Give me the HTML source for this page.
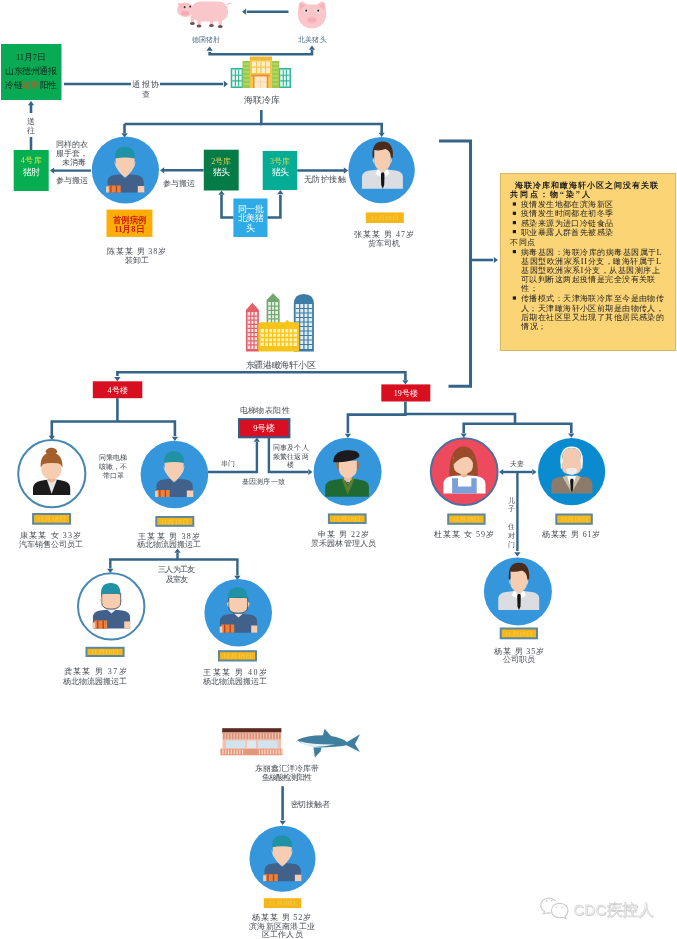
<!DOCTYPE html>
<html><head><meta charset="utf-8"><title>diagram</title>
<style>html,body{margin:0;padding:0;background:#fff;width:677px;height:939px;overflow:hidden}
svg{display:block;filter:blur(0.35px);font-family:"Liberation Serif", serif}</style></head>
<body>
<svg width="677" height="939" viewBox="0 0 677 939" font-family="Liberation Serif, serif">
<rect width="677" height="939" fill="#ffffff"/>
<g>
<path d="M190.6,16 L194.20000000000002,16 L194.0,23.5 L190.8,23.5 Z" fill="#f9c6c9"/>
<ellipse cx="192.4" cy="23.5" rx="2.4" ry="1.5" fill="#6e5252"/>
<path d="M197.2,16 L200.8,16 L200.6,26 L197.4,26 Z" fill="#f9c6c9"/>
<ellipse cx="199" cy="26" rx="2.4" ry="1.5" fill="#6e5252"/>
<path d="M209.7,16 L213.3,16 L213.1,25.5 L209.9,25.5 Z" fill="#f9c6c9"/>
<ellipse cx="211.5" cy="25.5" rx="2.4" ry="1.5" fill="#6e5252"/>
<path d="M218.5,16 L222.10000000000002,16 L221.9,26.5 L218.70000000000002,26.5 Z" fill="#f9c6c9"/>
<ellipse cx="220.3" cy="26.5" rx="2.4" ry="1.5" fill="#6e5252"/>
<rect x="191" y="1.5" width="37" height="20" rx="9" fill="#f9c6c9"/>
<path d="M227,5 Q230,2 231,4" stroke="#f9c6c9" stroke-width="1.2" fill="none"/>
<ellipse cx="185.5" cy="9.8" rx="8.5" ry="7.2" fill="#f9c6c9"/>
<path d="M177.5,3 L185,4 L181,9 Z" fill="#f7b9bd"/>
<ellipse cx="185" cy="13.2" rx="4" ry="2.4" fill="#f3adb3"/>
<ellipse cx="184.6" cy="7.2" rx="0.9" ry="1.1" fill="#3a2a2a"/><ellipse cx="190.2" cy="6.6" rx="0.9" ry="1.1" fill="#3a2a2a"/>
<path d="M298.5,8 Q298,1.2 303,1.5 L307,4.5 H317 L321,1.5 Q326,1.2 325.8,8 Q327,14 325.5,19 Q322,28.4 312,28.4 Q302,28.4 298.5,19 Q297,14 298.5,8 Z" fill="#f9c6c9"/>
<path d="M299.5,3 L305.5,5 L300,10 Z M324.5,3 L318.5,5 L324,10 Z" fill="#f5b3b8"/>
<ellipse cx="306.2" cy="10.8" rx="1.9" ry="1.7" fill="#ffffff"/><ellipse cx="318.3" cy="10.8" rx="1.9" ry="1.7" fill="#ffffff"/>
<circle cx="306.2" cy="10.7" r="1.1" fill="#2a2020"/><circle cx="318.3" cy="10.7" r="1.1" fill="#2a2020"/>
<ellipse cx="312" cy="20" rx="5" ry="3.6" fill="#f5b5ba"/>
<circle cx="310.2" cy="20" r="0.8" fill="#e38d96"/><circle cx="313.8" cy="20" r="0.8" fill="#e38d96"/>
</g>
<text x="206" y="41.5" font-size="7" fill="#4e6b88" text-anchor="middle" font-weight="normal" textLength="28" lengthAdjust="spacing">德国猪肘</text>
<text x="312" y="41.5" font-size="7" fill="#4e6b88" text-anchor="middle" font-weight="normal" textLength="29" lengthAdjust="spacing">北美猪头</text>
<path d="M288.5,11.7 L247,11.7" fill="none" stroke="#346588" stroke-width="2.6" stroke-linejoin="miter"/>
<path d="M242.0,11.7 L246.2,8.5 L246.2,14.8Z" fill="#346588"/>
<path d="M209.6,52 L209.6,54.3 L312,54.3 L312,50" fill="none" stroke="#346588" stroke-width="2.6" stroke-linejoin="miter"/>
<path d="M209.6,46.5 L206.4,50.7 L212.8,50.7Z" fill="#346588"/>
<path d="M312.0,45.5 L308.9,49.7 L315.1,49.7Z" fill="#346588"/>
<g>
<rect x="230.7" y="68" width="12.5" height="20" fill="#35b598"/>
<rect x="278.7" y="68" width="12.300000000000011" height="20" fill="#35b598"/>
<path d="M232.2,69.5 h9.5 v17 h-9.5z M280.2,69.5 h9.3 v17 h-9.3z" fill="#e4f7f2"/>
<path d="M232.2,75.2 h9.5 M232.2,80.9 h9.5 M235.4,69.5 v17 M238.6,69.5 v17 M280.2,75.2 h9.3 M280.2,80.9 h9.3 M283.3,69.5 v17 M286.4,69.5 v17" stroke="#35b598" stroke-width="1.1"/>
<rect x="242.5" y="61" width="8.300000000000011" height="27" fill="#9ccb4c"/>
<rect x="271.3" y="61" width="8.0" height="27" fill="#9ccb4c"/>
<path d="M243.5,64 h6 M243.5,68 h6 M243.5,72 h6 M243.5,76 h6 M243.5,80 h6 M243.5,84 h6 M272.3,64 h6 M272.3,68 h6 M272.3,72 h6 M272.3,76 h6 M272.3,80 h6 M272.3,84 h6" stroke="#c4e080" stroke-width="1.2"/>
<rect x="249.8" y="56.7" width="22.19999999999999" height="31.299999999999997" fill="#f4c64e"/>
<rect x="249.8" y="56.7" width="22.19999999999999" height="3.299999999999997" fill="#f0b93a"/>
<path d="M252,61.5 h18 v11.5 h-18z" fill="#fdf0c8"/>
<path d="M252,67.2 h18 M256.5,61.5 v11.5 M261,61.5 v11.5 M265.5,61.5 v11.5" stroke="#f4c64e" stroke-width="1.2"/>
<rect x="251.3" y="74.6" width="18.099999999999966" height="2.0" fill="#ec8a3c"/>
<rect x="253" y="76.6" width="1.5999999999999943" height="11.400000000000006" fill="#ec8a3c"/>
<rect x="266.6" y="76.6" width="1.599999999999966" height="11.400000000000006" fill="#ec8a3c"/>
<rect x="254.6" y="76.6" width="12.000000000000028" height="11.400000000000006" fill="#fde8c8"/>
<path d="M260.6,76.6 v11.4 M254.6,82 h12" stroke="#f6d4a8" stroke-width="0.8"/>
</g>
<text x="261.6" y="103.2" font-size="9" fill="#464b52" text-anchor="middle" font-weight="normal" textLength="36" lengthAdjust="spacing">海联冷库</text>
<path d="M261.3,110 L261.3,124 L381.7,124 L381.7,133" fill="none" stroke="#346588" stroke-width="2.6" stroke-linejoin="miter"/>
<path d="M124.5,124 L261.3,124" fill="none" stroke="#346588" stroke-width="2.6" stroke-linejoin="miter"/>
<path d="M124.5,124 L124.5,133" fill="none" stroke="#346588" stroke-width="2.6" stroke-linejoin="miter"/>
<path d="M124.5,137.5 L121.3,133.3 L127.7,133.3Z" fill="#346588"/>
<path d="M381.7,137.0 L378.6,132.8 L384.8,132.8Z" fill="#346588"/>
<rect x="1" y="44" width="60.5" height="56" fill="#08ab53"/>
<text x="31" y="60.1" font-size="8.5" fill="#10261a" text-anchor="middle" font-weight="normal" textLength="30" lengthAdjust="spacing">11月7日</text>
<text x="31" y="74.1" font-size="8.5" fill="#10261a" text-anchor="middle" font-weight="normal" textLength="52" lengthAdjust="spacing">山东德州通报</text>
<text x="31" y="87.8" font-size="8.5" text-anchor="middle" fill="#10261a" textLength="52" lengthAdjust="spacingAndGlyphs">冷链<tspan fill="#c9532a">猪肘</tspan>阳性</text>
<path d="M64,84 L223,84" fill="none" stroke="#346588" stroke-width="2.4" stroke-linejoin="miter"/>
<path d="M228.0,84.0 L223.8,80.8 L223.8,87.2Z" fill="#346588"/>
<rect x="131" y="78" width="29" height="21" fill="#fff"/>
<text x="145.6" y="86.9" font-size="8" fill="#464b52" text-anchor="middle" font-weight="normal" textLength="27" lengthAdjust="spacing">通报协</text>
<text x="146" y="96.9" font-size="8" fill="#464b52" text-anchor="middle" font-weight="normal">查</text>
<path d="M31,105 L31,113" fill="none" stroke="#346588" stroke-width="2.6" stroke-linejoin="miter"/>
<path d="M31,137 L31,150" fill="none" stroke="#346588" stroke-width="2.6" stroke-linejoin="miter"/>
<path d="M31.0,101.0 L27.9,105.2 L34.1,105.2Z" fill="#346588"/>
<text x="31" y="123.9" font-size="8" fill="#464b52" text-anchor="middle" font-weight="normal">送</text>
<text x="31" y="132.9" font-size="8" fill="#464b52" text-anchor="middle" font-weight="normal">往</text>
<rect x="13.7" y="150" width="35.0" height="41" fill="#04ae51"/>
<text x="31.2" y="162.9" font-size="8" fill="#d6e84a" text-anchor="middle" font-weight="normal" textLength="21" lengthAdjust="spacing">4号库</text>
<text x="31.2" y="175.1" font-size="8.5" fill="#ffffff" text-anchor="middle" font-weight="normal" textLength="17" lengthAdjust="spacing">猪肘</text>
<path d="M91,170.6 L54,170.6" fill="none" stroke="#346588" stroke-width="2.4" stroke-linejoin="miter"/>
<path d="M50.0,170.6 L54.2,167.4 L54.2,173.8Z" fill="#346588"/>
<text x="72" y="147.4" font-size="8" fill="#464b52" text-anchor="middle" font-weight="normal" textLength="32" lengthAdjust="spacing">同样的衣</text>
<text x="72" y="156.2" font-size="8" fill="#464b52" text-anchor="middle" font-weight="normal" textLength="32" lengthAdjust="spacing">服手套，</text>
<text x="74" y="165.2" font-size="8" fill="#464b52" text-anchor="middle" font-weight="normal" textLength="24" lengthAdjust="spacing">未消毒</text>
<text x="72" y="182.9" font-size="8" fill="#464b52" text-anchor="middle" font-weight="normal" textLength="32" lengthAdjust="spacing">参与搬运</text>
<circle cx="125.4" cy="170" r="33.6" fill="#3596dc"/>
<g transform="translate(125.4,170) scale(1.0)">
<path d="M-18,22.5 V12 Q-18,6 -11,5 L-4,4.3 L-0.3,8.5 L3.5,4.3 L11,5 Q18.3,6 18.3,12 V22.5 Z" fill="#41608a"/>
<path d="M-11.5,-9 L-9.5,-3 L-1,8 Z M10.5,-9 L8.8,-3 L0.5,8 Z" fill="#dfe9f2" opacity="0.8"/>
<path d="M-9.8,-13 H9.2 V-6 Q8.2,1 -0.3,7.5 Q-8.8,1 -9.8,-6 Z" fill="#f6cdb0"/>
<path d="M-10.3,-11.5 Q-11,-23.3 -0.5,-23.3 Q9.8,-23.3 9.6,-11.5 Q-0.5,-13.5 -10.3,-11.5 Z" fill="#2092a6"/>
<rect x="-18.3" y="15.5" width="13.6" height="7" fill="#e8823e"/>
<path d="M-14.5,15.5 v7 M-9,15.5 v7" stroke="#b8401e" stroke-width="1.3"/>
<rect x="-19.3" y="16.5" width="2.6" height="6" fill="#f6cdb0"/>
<rect x="12.4" y="16" width="6.5" height="6.5" fill="#f6cdb0"/>
</g>
<path d="M203.6,170.3 L164,170.3" fill="none" stroke="#346588" stroke-width="2.4" stroke-linejoin="miter"/>
<path d="M160.0,170.3 L164.2,167.2 L164.2,173.5Z" fill="#346588"/>
<text x="178.7" y="185.6" font-size="8" fill="#464b52" text-anchor="middle" font-weight="normal" textLength="32" lengthAdjust="spacing">参与搬运</text>
<rect x="106.5" y="209.6" width="45.900000000000006" height="27.30000000000001" fill="#fdad06"/>
<text x="129.5" y="222.6" font-size="8.5" fill="#cc200c" text-anchor="middle" font-weight="bold" textLength="33" lengthAdjust="spacingAndGlyphs">首例病例</text>
<text x="129.5" y="232.1" font-size="8.5" fill="#cc200c" text-anchor="middle" font-weight="bold" textLength="30" lengthAdjust="spacingAndGlyphs">11月8日</text>
<text x="136.5" y="253.9" font-size="8" fill="#464b52" text-anchor="middle" font-weight="normal" textLength="59" lengthAdjust="spacing">陈某某  男  38岁</text>
<text x="136.5" y="262.9" font-size="8" fill="#464b52" text-anchor="middle" font-weight="normal" textLength="24" lengthAdjust="spacing">装卸工</text>
<rect x="203.8" y="149.7" width="34.89999999999998" height="40.80000000000001" fill="#057b48"/>
<text x="221.2" y="163.9" font-size="8" fill="#dcd44a" text-anchor="middle" font-weight="normal" textLength="20" lengthAdjust="spacing">2号库</text>
<text x="221.2" y="175.1" font-size="8.5" fill="#ffffff" text-anchor="middle" font-weight="normal" textLength="17" lengthAdjust="spacing">猪头</text>
<rect x="262.7" y="151" width="34.5" height="39" fill="#06ad96"/>
<text x="280" y="163.9" font-size="8" fill="#dcd44a" text-anchor="middle" font-weight="normal" textLength="20" lengthAdjust="spacing">3号库</text>
<text x="280" y="175.1" font-size="8.5" fill="#ffffff" text-anchor="middle" font-weight="normal" textLength="17" lengthAdjust="spacing">猪头</text>
<rect x="233.4" y="198.5" width="34.099999999999994" height="38.5" fill="#2eaae6"/>
<text x="250.5" y="212.1" font-size="8.5" fill="#ffffff" text-anchor="middle" font-weight="normal" textLength="26" lengthAdjust="spacing">同一批</text>
<text x="250.5" y="221.1" font-size="8.5" fill="#ffffff" text-anchor="middle" font-weight="normal" textLength="26" lengthAdjust="spacing">北美猪</text>
<text x="250.5" y="230.8" font-size="8.5" fill="#ffffff" text-anchor="middle" font-weight="normal">头</text>
<path d="M233.4,217.5 L221.5,217.5 L221.5,195" fill="none" stroke="#346588" stroke-width="2.6" stroke-linejoin="miter"/>
<path d="M221.5,190.5 L218.3,194.7 L224.7,194.7Z" fill="#346588"/>
<path d="M267.5,217.5 L280.4,217.5 L280.4,195" fill="none" stroke="#346588" stroke-width="2.6" stroke-linejoin="miter"/>
<path d="M280.4,190.0 L277.2,194.2 L283.5,194.2Z" fill="#346588"/>
<path d="M297.2,170.5 L344,170.5" fill="none" stroke="#346588" stroke-width="2.4" stroke-linejoin="miter"/>
<path d="M348.0,170.5 L343.8,167.3 L343.8,173.7Z" fill="#346588"/>
<text x="324.8" y="181.9" font-size="8" fill="#464b52" text-anchor="middle" font-weight="normal" textLength="42" lengthAdjust="spacing">无防护接触</text>
<circle cx="381.6" cy="170.1" r="33.2" fill="#3596dc"/>
<g transform="translate(381.6,170.1)">
<path d="M-19.6,18.7 V7 Q-19.6,1.5 -12,0.5 L-3,-0.5 H5 L14,0.5 Q21.3,1.5 21.3,7 V18.7 Z" fill="#dcdde3"/>
<path d="M-4,-1 L1.1,4 L6,-1 L8,4 L1.1,8 L-6,4 Z" fill="#ffffff"/>
<path d="M-7.4,-21 H9.1 V-8 Q8.5,-1 1,1.5 Q-6.8,-1 -7.4,-8 Z" fill="#f6cdb0"/>
<path d="M-7.4,-12 L-9,-10 L-7.4,-6 Z M9.1,-12 L10.6,-10 L9.1,-6 Z" fill="#f6cdb0"/>
<path d="M-9,-12 Q-10.5,-28.6 1,-28.6 Q12.5,-28.6 11.2,-12 L9.3,-13 Q9,-19 4,-21 Q-2,-19 -7.4,-20 L-7.4,-13 Z" fill="#4a2b1c"/>
<path d="M-0.2,2.5 L2.4,2.5 L2.9,5 L2.6,15 L1.1,18.7 L-0.4,15 L-0.7,5 Z" fill="#151515"/>
</g>
<rect x="365.8" y="212.4" width="38.0" height="10.599999999999994" fill="#f5b61a"/>
<text x="384.8" y="219.9" font-size="6" fill="#f8cc50" text-anchor="middle" textLength="28.0" lengthAdjust="spacingAndGlyphs">11月18日</text>
<text x="384" y="237.3" font-size="8" fill="#464b52" text-anchor="middle" font-weight="normal" textLength="60" lengthAdjust="spacing">张某某  男  47岁</text>
<text x="384" y="245.9" font-size="8" fill="#464b52" text-anchor="middle" font-weight="normal" textLength="32" lengthAdjust="spacing">货车司机</text>
<path d="M439,141 L470.5,141 L470.5,386.2 L448.5,386.2" fill="none" stroke="#346588" stroke-width="3" stroke-linejoin="miter"/>
<path d="M470.5,260 L493,260" fill="none" stroke="#346588" stroke-width="2.6" stroke-linejoin="miter"/>
<path d="M498.0,260.0 L493.8,256.9 L493.8,263.1Z" fill="#346588"/>
<rect x="500.4" y="173.6" width="175.20000000000005" height="176.9" fill="#fbd475" stroke="#d9b262" stroke-width="1"/>
<text x="515" y="188.2" font-size="8.4" fill="#1e1e1e" text-anchor="start" font-weight="bold" textLength="142.6" lengthAdjust="spacing">海联冷库和瞰海轩小区之间没有关联</text>
<text x="510" y="197.0" font-size="8.4" fill="#1e1e1e" text-anchor="start" font-weight="bold" textLength="80" lengthAdjust="spacing">共同点：物“染”人</text>
<text x="521" y="207.0" font-size="8.4" fill="#1e1e1e" text-anchor="start" font-weight="normal" textLength="92" lengthAdjust="spacing">疫情发生地都在滨海新区</text>
<rect x="512.8" y="202.4" width="3.2000000000000455" height="3.1999999999999886" fill="#1a1a1a"/>
<text x="521" y="216.3" font-size="8.4" fill="#1e1e1e" text-anchor="start" font-weight="normal" textLength="92" lengthAdjust="spacing">疫情发生时间都在初冬季</text>
<rect x="512.8" y="211.70000000000002" width="3.2000000000000455" height="3.1999999999999886" fill="#1a1a1a"/>
<text x="521" y="225.6" font-size="8.4" fill="#1e1e1e" text-anchor="start" font-weight="normal" textLength="92" lengthAdjust="spacing">感染来源为进口冷链食品</text>
<rect x="512.8" y="221.0" width="3.2000000000000455" height="3.1999999999999886" fill="#1a1a1a"/>
<text x="521" y="234.6" font-size="8.4" fill="#1e1e1e" text-anchor="start" font-weight="normal" textLength="92" lengthAdjust="spacing">职业暴露人群首先被感染</text>
<rect x="512.8" y="230.0" width="3.2000000000000455" height="3.1999999999999886" fill="#1a1a1a"/>
<text x="510" y="244.6" font-size="8.4" fill="#1e1e1e" text-anchor="start" font-weight="normal" textLength="25.2" lengthAdjust="spacing">不同点</text>
<text x="521" y="254.6" font-size="8.4" fill="#1e1e1e" text-anchor="start" font-weight="normal" textLength="140.7" lengthAdjust="spacing">病毒基因：海联冷库的病毒基因属于L</text>
<rect x="512.8" y="250.0" width="3.2000000000000455" height="3.1999999999999886" fill="#1a1a1a"/>
<text x="521" y="263.8" font-size="8.4" fill="#1e1e1e" text-anchor="start" font-weight="normal" textLength="140" lengthAdjust="spacing">基因型欧洲家系II分支，瞰海轩属于L</text>
<text x="521" y="273.0" font-size="8.4" fill="#1e1e1e" text-anchor="start" font-weight="normal" textLength="139" lengthAdjust="spacing">基因型欧洲家系I分支，从基因测序上</text>
<text x="521" y="282.0" font-size="8.4" fill="#1e1e1e" text-anchor="start" font-weight="normal" textLength="134.4" lengthAdjust="spacing">可以判断这两起疫情是完全没有关联</text>
<text x="521" y="291.0" font-size="8.4" fill="#1e1e1e" text-anchor="start" font-weight="normal" textLength="16.8" lengthAdjust="spacing">性；</text>
<text x="521" y="301.0" font-size="8.4" fill="#1e1e1e" text-anchor="start" font-weight="normal" textLength="142.8" lengthAdjust="spacing">传播模式：天津海联冷库至今是由物传</text>
<rect x="512.8" y="296.4" width="3.2000000000000455" height="3.2000000000000455" fill="#1a1a1a"/>
<text x="521" y="310.5" font-size="8.4" fill="#1e1e1e" text-anchor="start" font-weight="normal" textLength="142.8" lengthAdjust="spacing">人；天津瞰海轩小区前期是由物传人，</text>
<text x="521" y="319.5" font-size="8.4" fill="#1e1e1e" text-anchor="start" font-weight="normal" textLength="142.8" lengthAdjust="spacing">后期在社区里又出现了其他居民感染的</text>
<text x="521" y="328.6" font-size="8.4" fill="#1e1e1e" text-anchor="start" font-weight="normal" textLength="25.2" lengthAdjust="spacing">情况；</text>
<g>
<path d="M245.9,310 L252.4,302.8 L258.9,310 V351.6 H245.9 Z" fill="#e2606a"/>
<path d="M247.6,312 h9.6 v37 h-9.6z" fill="#fbe4e6"/>
<path d="M247.6,316.1 H257.2 M247.6,320.2 H257.2 M247.6,324.3 H257.2 M247.6,328.4 H257.2 M247.6,332.6 H257.2 M247.6,336.7 H257.2 M247.6,340.8 H257.2 M247.6,344.9 H257.2 M250.8,312 V349 M254.0,312 V349" stroke="#e2606a" stroke-width="1.2"/>
<path d="M266.6,300 L273.1,293.3 L279.6,300 V325 H266.6 Z" fill="#72a772"/>
<path d="M268.2,302 h9.8 v21 h-9.8z" fill="#e6f4e4"/>
<path d="M268.2,306.2 H278 M268.2,310.4 H278 M268.2,314.6 H278 M268.2,318.8 H278 M271.5,302 V323 M274.7,302 V323" stroke="#72a772" stroke-width="1.2"/>
<path d="M293.8,304 Q293.8,293.9 303.8,293.9 Q313.9,293.9 313.9,304 V351.6 H293.8 Z" fill="#3d7ca4"/>
<path d="M295.6,304 h16.5 v45 h-16.5z" fill="#e0edf6"/>
<path d="M295.6,308.5 H312.1 M295.6,313.0 H312.1 M295.6,317.5 H312.1 M295.6,322.0 H312.1 M295.6,326.5 H312.1 M295.6,331.0 H312.1 M295.6,335.5 H312.1 M295.6,340.0 H312.1 M295.6,344.5 H312.1 M299.7,304 V349 M303.9,304 V349 M308.0,304 V349" stroke="#3d7ca4" stroke-width="1.2"/>
<path d="M258.3,351.6 V325 Q258.3,322.3 262,322.3 H285 L287.3,319.8 L289.6,322.3 H296 Q299.1,322.3 299.1,325 V351.6 Z" fill="#f6c41a"/>
<path d="M260.5,329 h36.5 v17 h-36.5z" fill="#fdf1b8"/>
<path d="M260.5,333.2 H297 M260.5,337.5 H297 M260.5,341.8 H297 M264.6,329 V346 M268.6,329 V346 M272.7,329 V346 M276.7,329 V346 M280.8,329 V346 M284.8,329 V346 M288.9,329 V346 M292.9,329 V346" stroke="#f6c41a" stroke-width="1.3"/>
</g>
<text x="280.5" y="368.1" font-size="8.5" fill="#464b52" text-anchor="middle" font-weight="normal" textLength="70" lengthAdjust="spacing">东疆港瞰海轩小区</text>
<path d="M117.4,376 L117.4,372.3 L405.4,372.3 L405.4,380" fill="none" stroke="#346588" stroke-width="2.6" stroke-linejoin="miter"/>
<path d="M117.4,381.3 L114.2,377.1 L120.6,377.1Z" fill="#346588"/>
<path d="M405.4,384.4 L402.2,380.2 L408.5,380.2Z" fill="#346588"/>
<rect x="92.8" y="381.3" width="49.500000000000014" height="16.899999999999977" fill="#d80f20"/>
<text x="117.5" y="392.6" font-size="8" fill="#ffffff" text-anchor="middle" font-weight="normal" textLength="20" lengthAdjust="spacing">4号楼</text>
<rect x="381.3" y="384.4" width="49.0" height="17.100000000000023" fill="#d80f20"/>
<text x="405.7" y="395.9" font-size="8" fill="#ffffff" text-anchor="middle" font-weight="normal" textLength="24" lengthAdjust="spacing">19号楼</text>
<path d="M117.4,398.2 L117.4,421.5" fill="none" stroke="#346588" stroke-width="2.6" stroke-linejoin="miter"/>
<path d="M51.8,436 L51.8,421.5 L174.9,421.5 L174.9,436" fill="none" stroke="#346588" stroke-width="2.6" stroke-linejoin="miter"/>
<path d="M51.8,440.0 L48.6,435.8 L54.9,435.8Z" fill="#346588"/>
<path d="M174.9,441.0 L171.8,436.8 L178.1,436.8Z" fill="#346588"/>
<text x="113.4" y="460.1" font-size="7" fill="#464b52" text-anchor="middle" font-weight="normal" textLength="28" lengthAdjust="spacing">同乘电梯</text>
<text x="113.4" y="468.8" font-size="7" fill="#464b52" text-anchor="middle" font-weight="normal" textLength="28" lengthAdjust="spacing">咳嗽，不</text>
<text x="113.4" y="477.5" font-size="7" fill="#464b52" text-anchor="middle" font-weight="normal" textLength="21" lengthAdjust="spacing">带口罩</text>
<circle cx="51.8" cy="473.7" r="33.6" fill="#ffffff" stroke="#4688b2" stroke-width="2"/>
<g transform="translate(51.9,473.8)">
<path d="M-18.9,21.2 V14 Q-18.5,8.5 -11,7 L-5,6 H6 L11,7 Q18.3,8.5 18.3,14 V21.2 Z" fill="#1b1b1b"/>
<path d="M-5,6 L-0.3,20 L5,6 Z" fill="#e6e6e6"/>
<path d="M-4,3 H3.5 V7 L-0.3,9 L-4,7 Z" fill="#e8b89a"/>
<path d="M-10.5,-13 H9.5 V-3 Q9,4.5 -0.5,5.5 Q-10,4.5 -10.5,-3 Z" fill="#f6cdb0"/>
<path d="M-11.2,-6.5 Q-12,-21 -0.8,-21 Q10.8,-21 10.6,-6.5 Q9,-10 6,-10.5 Q-4,-11.5 -9,-9.5 Z" fill="#a3602c"/>
<ellipse cx="-0.5" cy="-22.2" rx="5.8" ry="3.8" fill="#a3602c"/>
</g>
<circle cx="174.4" cy="474.5" r="33.8" fill="#3596dc"/>
<g transform="translate(174.4,474.5) scale(1.0)">
<path d="M-18,22.5 V12 Q-18,6 -11,5 L-4,4.3 L-0.3,8.5 L3.5,4.3 L11,5 Q18.3,6 18.3,12 V22.5 Z" fill="#41608a"/>
<path d="M-11.5,-9 L-9.5,-3 L-1,8 Z M10.5,-9 L8.8,-3 L0.5,8 Z" fill="#dfe9f2" opacity="0.8"/>
<path d="M-9.8,-13 H9.2 V-6 Q8.2,1 -0.3,7.5 Q-8.8,1 -9.8,-6 Z" fill="#f6cdb0"/>
<path d="M-10.3,-11.5 Q-11,-23.3 -0.5,-23.3 Q9.8,-23.3 9.6,-11.5 Q-0.5,-13.5 -10.3,-11.5 Z" fill="#2092a6"/>
<rect x="-18.3" y="15.5" width="13.6" height="7" fill="#e8823e"/>
<path d="M-14.5,15.5 v7 M-9,15.5 v7" stroke="#b8401e" stroke-width="1.3"/>
<rect x="-19.3" y="16.5" width="2.6" height="6" fill="#f6cdb0"/>
<rect x="12.4" y="16" width="6.5" height="6.5" fill="#f6cdb0"/>
</g>
<rect x="32.1" y="513" width="38.99999999999999" height="11.700000000000045" fill="#5b88a0"/>
<rect x="34.1" y="515" width="34.99999999999999" height="7.7000000000000455" fill="#f5b61a"/>
<text x="51.6" y="521.1" font-size="6" fill="#f8cc50" text-anchor="middle" textLength="29.0" lengthAdjust="spacingAndGlyphs">11月18日</text>
<rect x="155.3" y="516" width="39.0" height="10.799999999999955" fill="#5b88a0"/>
<rect x="157.3" y="518" width="35.0" height="6.7999999999999545" fill="#f5b61a"/>
<text x="174.8" y="523.6" font-size="6" fill="#f8cc50" text-anchor="middle" textLength="29.0" lengthAdjust="spacingAndGlyphs">11月18日</text>
<text x="50.5" y="537.5" font-size="8" fill="#464b52" text-anchor="middle" font-weight="normal" textLength="61" lengthAdjust="spacing">康某某  女  33岁</text>
<text x="50.5" y="546.6" font-size="8" fill="#464b52" text-anchor="middle" font-weight="normal" textLength="64" lengthAdjust="spacing">汽车销售公司员工</text>
<text x="169" y="538.5" font-size="8" fill="#464b52" text-anchor="middle" font-weight="normal" textLength="62" lengthAdjust="spacing">王某某  男  38岁</text>
<text x="169" y="547.2" font-size="8" fill="#464b52" text-anchor="middle" font-weight="normal" textLength="64" lengthAdjust="spacing">杨北物流园搬运工</text>
<text x="264.5" y="413.3" font-size="8" fill="#464b52" text-anchor="middle" font-weight="normal" textLength="50" lengthAdjust="spacing">电梯物表阳性</text>
<rect x="239" y="419.1" width="50.39999999999998" height="18.19999999999999" fill="#d80f20" stroke="#2f5f8a" stroke-width="2"/>
<text x="264.2" y="431.3" font-size="8.5" fill="#ffffff" text-anchor="middle" font-weight="normal" textLength="22" lengthAdjust="spacing">9号楼</text>
<path d="M208,472 L256.9,472 L256.9,442" fill="none" stroke="#346588" stroke-width="2.4" stroke-linejoin="miter"/>
<path d="M256.9,437.5 L253.7,441.7 L260.0,441.7Z" fill="#346588"/>
<text x="228" y="465.8" font-size="7" fill="#464b52" text-anchor="middle" font-weight="normal" textLength="14" lengthAdjust="spacing">串门</text>
<path d="M268.9,437.3 L268.9,472 L308,472" fill="none" stroke="#346588" stroke-width="2.4" stroke-linejoin="miter"/>
<path d="M312.5,472.0 L308.3,468.9 L308.3,475.1Z" fill="#346588"/>
<text x="290.5" y="450.2" font-size="7" fill="#464b52" text-anchor="middle" font-weight="normal" textLength="36" lengthAdjust="spacing">同事及个人</text>
<text x="290.5" y="459.1" font-size="7" fill="#464b52" text-anchor="middle" font-weight="normal" textLength="36" lengthAdjust="spacing">频繁往返两</text>
<text x="290.5" y="467.3" font-size="7" fill="#464b52" text-anchor="middle" font-weight="normal">楼</text>
<text x="263.3" y="484.4" font-size="7" fill="#464b52" text-anchor="middle" font-weight="normal" textLength="43" lengthAdjust="spacing">基因测序一致</text>
<path d="M405.4,401.5 L405.4,414.6 L347.9,414.6 L347.9,433" fill="none" stroke="#346588" stroke-width="2.6" stroke-linejoin="miter"/>
<path d="M347.9,438.0 L344.8,433.8 L351.0,433.8Z" fill="#346588"/>
<circle cx="347.6" cy="471.7" r="34" fill="#3596dc"/>
<g transform="translate(347.6,471.7)">
<path d="M-22.4,25 V15 Q-22,9.5 -14,8.3 L-5,7 H7 L13,8.3 Q21.3,9.5 21.3,15 V25 Z" fill="#1f6a32"/>
<path d="M-6,7 L0,23 L7,7 L4,7 L0,15 L-3,7 Z" fill="#5e7d2e"/>
<path d="M-3,7 L0.3,12.5 L4,7 Z" fill="#ffffff"/>
<path d="M-1,10 L1.5,10 L0.3,12 Z" fill="#222"/>
<path d="M-3.5,3 H4 V8 L0.3,10 L-3.5,8 Z" fill="#e8b89a"/>
<path d="M-8.7,-11 H9.3 V-2 Q8.5,5 0.3,6.8 Q-8,5 -8.7,-2 Z" fill="#f6cdb0"/>
<path d="M-11.2,-10 V-4 L-8.7,-1.5 V-10 Z M11.3,-10 V-4 L9.3,-1.5 V-10 Z" fill="#a8703a"/>
<path d="M-14.2,-11.5 Q-14,-20 -2,-21.4 Q12,-22.5 12,-15.5 Q6,-9.5 -14.2,-9.5 Z" fill="#1c1a1c"/>
</g>
<rect x="327.9" y="513.4" width="38.700000000000045" height="10.600000000000023" fill="#5b88a0"/>
<rect x="329.9" y="515.4" width="34.700000000000045" height="6.600000000000023" fill="#f5b61a"/>
<text x="347.2" y="520.9" font-size="6" fill="#f8cc50" text-anchor="middle" textLength="28.7" lengthAdjust="spacingAndGlyphs">11月18日</text>
<text x="343.5" y="537.1" font-size="8" fill="#464b52" text-anchor="middle" font-weight="normal" textLength="51" lengthAdjust="spacing">申某  男  22岁</text>
<text x="343.5" y="545.8" font-size="8" fill="#464b52" text-anchor="middle" font-weight="normal" textLength="65" lengthAdjust="spacing">景禾园林管理人员</text>
<path d="M405.4,414 L515,414 L515,423.7" fill="none" stroke="#346588" stroke-width="2.6" stroke-linejoin="miter"/>
<path d="M463.7,433 L463.7,423.7 L571.3,423.7 L571.3,433" fill="none" stroke="#346588" stroke-width="2.6" stroke-linejoin="miter"/>
<path d="M463.7,437.8 L460.6,433.6 L466.8,433.6Z" fill="#346588"/>
<path d="M571.3,437.8 L568.1,433.6 L574.4,433.6Z" fill="#346588"/>
<circle cx="464.2" cy="471.7" r="33.4" fill="#ee4a5e" stroke="#4b6fa0" stroke-width="2"/>
<g transform="translate(464.2,471.7)">
<path d="M-14.8,5.4 Q-15.5,-25.2 -0.6,-25.2 Q14,-25.2 13.6,5.4 Z" fill="#9c4b2a"/>
<path d="M-20.8,21.8 V12 Q-20.5,5.5 -12,4.2 L-5,3.7 H5 L12,4.2 Q21,5.5 21.3,12 V21.8 Z" fill="#ffffff"/>
<path d="M-12.1,21.8 V6.5 H-6.2 V14.7 H7.1 V6.5 H12.5 V21.8 Z" fill="#7b9fd8"/>
<path d="M-3.5,0 H3 V4.5 L-0.3,6 L-3.5,4.5 Z" fill="#e8b89a"/>
<path d="M-10.5,-15 H8.7 V-5 Q8,1.5 -1,2.6 Q-9.8,1.5 -10.5,-5 Z" fill="#f6cdb0"/>
<path d="M-11,-7 Q-12,-21.5 -1,-21.5 Q10,-21.5 9.3,-7 Q8,-13 3,-15 Q-4,-15 -11,-7 Z" fill="#9c4b2a"/>
</g>
<circle cx="571.6" cy="471.7" r="33.6" fill="#0a8bd0"/>
<g transform="translate(571.6,471.7)">
<path d="M-20.2,21.8 V12 Q-20,6.5 -12,5.3 L-4,5 H5 L13,5.3 Q20.5,6.5 20.8,12 V21.8 Z" fill="#8c7a6a"/>
<path d="M-9,5.2 L0,21 L9,5.2 L5,3.5 L0,9 L-5,3.5 Z" fill="#c9c0a8"/>
<path d="M-4.5,4 L0,19 L4.5,4 Z" fill="#ffffff"/>
<path d="M-1,7 H1.5 L2,9 L1.3,18 L0.2,21 L-0.9,18 L-1.5,9 Z" fill="#151515"/>
<path d="M-10.9,-12 Q-10.9,-25.2 0,-25.2 Q10.9,-25.2 10.9,-12 V-4 L9.5,-2 V-12 Q9.5,-23.8 0,-23.8 Q-9.5,-23.8 -9.5,-12 V-2 L-10.9,-4 Z" fill="#f6f6f6"/>
<path d="M-9.5,-12 Q-9.5,-23.8 0,-23.8 Q9.5,-23.8 9.5,-12 V-4 Q9.5,2.6 0,2.6 Q-9.5,2.6 -9.5,-4 Z" fill="#f3c9b2"/>
<path d="M-10.9,-17 Q-12,-10 -10,-4 Q-9.5,-9 -8.5,-11 Z M10.9,-17 Q12,-10 10,-4 Q9.5,-9 8.5,-11 Z" fill="#f4f4f4"/>
<path d="M-5.5,-2.5 Q0,-5 5.5,-2.5 Q5,3 0,3 Q-5,3 -5.5,-2.5 Z" fill="#eeeeee"/>
<path d="M-3,-2.8 Q0,-1 3,-2.8 Q0,-0 -3,-2.8Z" fill="#f3c9b2"/>
</g>
<path d="M503,472 L532,472" fill="none" stroke="#346588" stroke-width="2.4" stroke-linejoin="miter"/>
<path d="M499.0,472.0 L503.2,468.9 L503.2,475.1Z" fill="#346588"/>
<path d="M536.5,472.0 L532.3,468.9 L532.3,475.1Z" fill="#346588"/>
<text x="516.8" y="465.9" font-size="7" fill="#464b52" text-anchor="middle" font-weight="normal" textLength="14" lengthAdjust="spacing">夫妻</text>
<path d="M517.4,472 L517.4,551" fill="none" stroke="#346588" stroke-width="2.4" stroke-linejoin="miter"/>
<path d="M517.4,556.5 L514.2,552.3 L520.5,552.3Z" fill="#346588"/>
<text x="511.5" y="503.3" font-size="7" fill="#464b52" text-anchor="middle" font-weight="normal">儿</text>
<text x="511.5" y="511.1" font-size="7" fill="#464b52" text-anchor="middle" font-weight="normal">子</text>
<text x="511.5" y="529.0" font-size="7" fill="#464b52" text-anchor="middle" font-weight="normal">住</text>
<text x="511.5" y="537.9" font-size="7" fill="#464b52" text-anchor="middle" font-weight="normal">对</text>
<text x="511.5" y="546.9" font-size="7" fill="#464b52" text-anchor="middle" font-weight="normal">门</text>
<rect x="447.2" y="513.5" width="38.400000000000034" height="11.299999999999955" fill="#5b88a0"/>
<rect x="449.2" y="515.5" width="34.400000000000034" height="7.2999999999999545" fill="#f5b61a"/>
<text x="466.4" y="521.4" font-size="6" fill="#f8cc50" text-anchor="middle" textLength="28.4" lengthAdjust="spacingAndGlyphs">11月18日</text>
<rect x="555.3" y="513.5" width="37.5" height="11.299999999999955" fill="#5b88a0"/>
<rect x="557.3" y="515.5" width="33.5" height="7.2999999999999545" fill="#f5b61a"/>
<text x="574.0" y="521.4" font-size="6" fill="#f8cc50" text-anchor="middle" textLength="27.5" lengthAdjust="spacingAndGlyphs">11月18日</text>
<text x="464" y="537.1" font-size="8" fill="#464b52" text-anchor="middle" font-weight="normal" textLength="60" lengthAdjust="spacing">杜某某  女  59岁</text>
<text x="571" y="537.1" font-size="8" fill="#464b52" text-anchor="middle" font-weight="normal" textLength="58.5" lengthAdjust="spacing">杨某某  男  61岁</text>
<circle cx="517.9" cy="591.4" r="34" fill="#3596dc"/>
<g transform="translate(517.9,591.4)">
<path d="M-19.6,18.7 V7 Q-19.6,1.5 -12,0.5 L-3,-0.5 H5 L14,0.5 Q21.3,1.5 21.3,7 V18.7 Z" fill="#dcdde3"/>
<path d="M-4,-1 L1.1,4 L6,-1 L8,4 L1.1,8 L-6,4 Z" fill="#ffffff"/>
<path d="M-7.4,-21 H9.1 V-8 Q8.5,-1 1,1.5 Q-6.8,-1 -7.4,-8 Z" fill="#f6cdb0"/>
<path d="M-7.4,-12 L-9,-10 L-7.4,-6 Z M9.1,-12 L10.6,-10 L9.1,-6 Z" fill="#f6cdb0"/>
<path d="M-9,-12 Q-10.5,-28.6 1,-28.6 Q12.5,-28.6 11.2,-12 L9.3,-13 Q9,-19 4,-21 Q-2,-19 -7.4,-20 L-7.4,-13 Z" fill="#4a2b1c"/>
<path d="M-0.2,2.5 L2.4,2.5 L2.9,5 L2.6,15 L1.1,18.7 L-0.4,15 L-0.7,5 Z" fill="#151515"/>
</g>
<rect x="499.7" y="627.5" width="38.30000000000001" height="11.799999999999955" fill="#5b88a0"/>
<rect x="501.7" y="629.5" width="34.30000000000001" height="7.7999999999999545" fill="#f5b61a"/>
<text x="518.9" y="635.6" font-size="6" fill="#f8cc50" text-anchor="middle" textLength="28.3" lengthAdjust="spacingAndGlyphs">11月18日</text>
<text x="519" y="654.1" font-size="8" fill="#464b52" text-anchor="middle" font-weight="normal" textLength="50" lengthAdjust="spacing">杨某  男  35岁</text>
<text x="519" y="662.1" font-size="8" fill="#464b52" text-anchor="middle" font-weight="normal" textLength="32" lengthAdjust="spacing">公司职员</text>
<path d="M177.5,553 L177.5,559.5" fill="none" stroke="#346588" stroke-width="2.4" stroke-linejoin="miter"/>
<path d="M177.5,548.5 L174.3,552.7 L180.7,552.7Z" fill="#346588"/>
<path d="M110.3,568.5 L110.3,559.5 L237.4,559.5 L237.4,575.5" fill="none" stroke="#346588" stroke-width="2.4" stroke-linejoin="miter"/>
<path d="M110.3,573.0 L107.1,568.8 L113.5,568.8Z" fill="#346588"/>
<path d="M237.4,580.0 L234.2,575.8 L240.6,575.8Z" fill="#346588"/>
<text x="176.7" y="572.4" font-size="7.5" fill="#464b52" text-anchor="middle" font-weight="normal" textLength="37" lengthAdjust="spacing">三人为工友</text>
<text x="176.7" y="581.6" font-size="7.5" fill="#464b52" text-anchor="middle" font-weight="normal" textLength="22" lengthAdjust="spacing">及室友</text>
<circle cx="111.2" cy="606.4" r="33.2" fill="#ffffff" stroke="#4688b2" stroke-width="2"/>
<g transform="translate(111.2,606.4) scale(1.0)">
<path d="M-18.3,22.2 V11 Q-18.3,5 -11,4 L-4,3.3 H4 L11,4 Q18.9,5 18.9,11 V22.2 Z" fill="#41608a"/>
<path d="M-4,3.3 L0.3,7 L4.5,3.3 Z" fill="#e6eef4"/>
<path d="M-9.5,-13 H9.5 V-4 Q9.5,2.7 0,2.7 Q-9.5,2.7 -9.5,-4 Z" fill="#f6cdb0" stroke="#3a3a4a" stroke-width="0.8"/>
<path d="M-9.5,-9 L-11.5,-7 L-10,-3 Z M9.5,-9 L11.5,-7 L10,-3Z" fill="#f6cdb0"/>
<path d="M-10.3,-12 Q-10.5,-23.3 -0.5,-23.3 Q9.5,-23.3 9.2,-12 Q0,-14 -10.3,-12 Z" fill="#2092a6"/>
<rect x="-17" y="14" width="13" height="8.2" fill="#e8823e"/>
<path d="M-13.5,14 v8.2 M-8,14 v8.2" stroke="#b8401e" stroke-width="1.3"/>
<rect x="-18.5" y="16" width="2.6" height="6.2" fill="#f6cdb0"/>
<rect x="13" y="15" width="6" height="7.2" fill="#f6cdb0"/>
</g>
<circle cx="238.2" cy="612.8" r="33.8" fill="#3596dc"/>
<g transform="translate(238.2,610.5) scale(1.0)">
<path d="M-18.3,22.2 V11 Q-18.3,5 -11,4 L-4,3.3 H4 L11,4 Q18.9,5 18.9,11 V22.2 Z" fill="#41608a"/>
<path d="M-4,3.3 L0.3,7 L4.5,3.3 Z" fill="#e6eef4"/>
<path d="M-9.5,-13 H9.5 V-4 Q9.5,2.7 0,2.7 Q-9.5,2.7 -9.5,-4 Z" fill="#f6cdb0" stroke="#3a3a4a" stroke-width="0.8"/>
<path d="M-9.5,-9 L-11.5,-7 L-10,-3 Z M9.5,-9 L11.5,-7 L10,-3Z" fill="#f6cdb0"/>
<path d="M-10.3,-12 Q-10.5,-23.3 -0.5,-23.3 Q9.5,-23.3 9.2,-12 Q0,-14 -10.3,-12 Z" fill="#2092a6"/>
<rect x="-17" y="14" width="13" height="8.2" fill="#e8823e"/>
<path d="M-13.5,14 v8.2 M-8,14 v8.2" stroke="#b8401e" stroke-width="1.3"/>
<rect x="-18.5" y="16" width="2.6" height="6.2" fill="#f6cdb0"/>
<rect x="13" y="15" width="6" height="7.2" fill="#f6cdb0"/>
</g>
<rect x="85.5" y="646.8" width="39.099999999999994" height="10.200000000000045" fill="#5b88a0"/>
<rect x="87.5" y="648.8" width="35.099999999999994" height="6.2000000000000455" fill="#f5b61a"/>
<text x="105.0" y="654.1" font-size="6" fill="#f8cc50" text-anchor="middle" textLength="29.1" lengthAdjust="spacingAndGlyphs">11月18日</text>
<rect x="218" y="650.2" width="39" height="11.299999999999955" fill="#5b88a0"/>
<rect x="220" y="652.2" width="35" height="7.2999999999999545" fill="#f5b61a"/>
<text x="237.5" y="658.1" font-size="6" fill="#f8cc50" text-anchor="middle" textLength="29.0" lengthAdjust="spacingAndGlyphs">11月18日</text>
<text x="95" y="673.5" font-size="8" fill="#464b52" text-anchor="middle" font-weight="normal" textLength="63" lengthAdjust="spacing">龚某某  男  37岁</text>
<text x="95" y="683.7" font-size="8" fill="#464b52" text-anchor="middle" font-weight="normal" textLength="64" lengthAdjust="spacing">杨北物流园搬运工</text>
<text x="235" y="674.5" font-size="8" fill="#464b52" text-anchor="middle" font-weight="normal" textLength="64" lengthAdjust="spacing">王某某  男  40岁</text>
<text x="235" y="684.4" font-size="8" fill="#464b52" text-anchor="middle" font-weight="normal" textLength="64" lengthAdjust="spacing">杨北物流园搬运工</text>
<g>
<rect x="222.2" y="728.2" width="59.19999999999999" height="4.399999999999977" fill="#5a2a22"/>
<rect x="222.5" y="732.6" width="58.5" height="16.0" fill="#f2c2ae"/>
<path d="M223.0,732.6 h1.6 v6 l-0.8,1.2 l-0.8,-1.2 Z" fill="#d98d78"/>
<path d="M225.9,732.6 h1.6 v6 l-0.8,1.2 l-0.8,-1.2 Z" fill="#d98d78"/>
<path d="M228.9,732.6 h1.6 v6 l-0.8,1.2 l-0.8,-1.2 Z" fill="#d98d78"/>
<path d="M231.8,732.6 h1.6 v6 l-0.8,1.2 l-0.8,-1.2 Z" fill="#d98d78"/>
<path d="M234.8,732.6 h1.6 v6 l-0.8,1.2 l-0.8,-1.2 Z" fill="#d98d78"/>
<path d="M237.8,732.6 h1.6 v6 l-0.8,1.2 l-0.8,-1.2 Z" fill="#d98d78"/>
<path d="M240.7,732.6 h1.6 v6 l-0.8,1.2 l-0.8,-1.2 Z" fill="#d98d78"/>
<path d="M243.7,732.6 h1.6 v6 l-0.8,1.2 l-0.8,-1.2 Z" fill="#d98d78"/>
<path d="M246.6,732.6 h1.6 v6 l-0.8,1.2 l-0.8,-1.2 Z" fill="#d98d78"/>
<path d="M249.6,732.6 h1.6 v6 l-0.8,1.2 l-0.8,-1.2 Z" fill="#d98d78"/>
<path d="M252.5,732.6 h1.6 v6 l-0.8,1.2 l-0.8,-1.2 Z" fill="#d98d78"/>
<path d="M255.4,732.6 h1.6 v6 l-0.8,1.2 l-0.8,-1.2 Z" fill="#d98d78"/>
<path d="M258.4,732.6 h1.6 v6 l-0.8,1.2 l-0.8,-1.2 Z" fill="#d98d78"/>
<path d="M261.4,732.6 h1.6 v6 l-0.8,1.2 l-0.8,-1.2 Z" fill="#d98d78"/>
<path d="M264.3,732.6 h1.6 v6 l-0.8,1.2 l-0.8,-1.2 Z" fill="#d98d78"/>
<path d="M267.2,732.6 h1.6 v6 l-0.8,1.2 l-0.8,-1.2 Z" fill="#d98d78"/>
<path d="M270.2,732.6 h1.6 v6 l-0.8,1.2 l-0.8,-1.2 Z" fill="#d98d78"/>
<path d="M273.1,732.6 h1.6 v6 l-0.8,1.2 l-0.8,-1.2 Z" fill="#d98d78"/>
<path d="M276.1,732.6 h1.6 v6 l-0.8,1.2 l-0.8,-1.2 Z" fill="#d98d78"/>
<path d="M279.1,732.6 h1.6 v6 l-0.8,1.2 l-0.8,-1.2 Z" fill="#d98d78"/>
<path d="M226,740.5 h19.5 v7.5 h-19.5z M258,740.5 h19.5 v7.5 h-19.5z" fill="#cfe4ee"/>
<rect x="247" y="740.5" width="9" height="14.0" fill="#d8ecf2"/>
<rect x="220.4" y="748.6" width="62.099999999999994" height="6.699999999999932" fill="#e8967a"/>
<path d="M223.0,749.6 v4.7 M225.8,749.6 v4.7 M228.6,749.6 v4.7 M231.4,749.6 v4.7 M234.2,749.6 v4.7 M237.0,749.6 v4.7 M239.8,749.6 v4.7 M242.6,749.6 v4.7 M259.4,749.6 v4.7 M262.2,749.6 v4.7 M265.0,749.6 v4.7 M267.8,749.6 v4.7 M270.6,749.6 v4.7 M273.4,749.6 v4.7 M276.2,749.6 v4.7 M279.0,749.6 v4.7 M281.8,749.6 v4.7" stroke="#fbe0d4" stroke-width="1.1"/>
</g>
<g>
<path d="M297,740 Q306,735.5 323,735.3 L324.6,728.7 L331,736 Q342,737.8 347,742 L360,734.2 L355,744 L360,752 L346.5,745.3 Q336,747.3 320,747.4 Q304,746.5 297,740 Z" fill="#3f7e9e"/>
<path d="M299.5,741.3 Q312,744.8 335,744.6 Q322,747.4 310,746.8 Q303,745 299.5,741.3 Z" fill="#e4eff4"/>
<path d="M313.5,747.3 L314.8,757.5 L320.5,751.5 L321.5,747.8 Z" fill="#3f7e9e"/>
</g>
<text x="287.3" y="771.4" font-size="8" fill="#464b52" text-anchor="middle" font-weight="normal" textLength="64" lengthAdjust="spacing">东丽鑫汇洋冷库带</text>
<text x="287" y="779.6" font-size="8" fill="#464b52" text-anchor="middle" font-weight="normal" textLength="50" lengthAdjust="spacing">鱼核酸检测阳性</text>
<path d="M282.6,786.2 L282.6,820" fill="none" stroke="#346588" stroke-width="2.6" stroke-linejoin="miter"/>
<path d="M282.6,825.0 L279.5,820.8 L285.8,820.8Z" fill="#346588"/>
<text x="310" y="806.8" font-size="8" fill="#464b52" text-anchor="middle" font-weight="normal" textLength="39" lengthAdjust="spacing">密切接触者</text>
<circle cx="282.5" cy="858.7" r="33" fill="#3596dc"/>
<g transform="translate(282.5,858.7) scale(1.0)">
<path d="M-18,22.5 V12 Q-18,6 -11,5 L-4,4.3 L-0.3,8.5 L3.5,4.3 L11,5 Q18.3,6 18.3,12 V22.5 Z" fill="#41608a"/>
<path d="M-11.5,-9 L-9.5,-3 L-1,8 Z M10.5,-9 L8.8,-3 L0.5,8 Z" fill="#dfe9f2" opacity="0.8"/>
<path d="M-9.8,-13 H9.2 V-6 Q8.2,1 -0.3,7.5 Q-8.8,1 -9.8,-6 Z" fill="#f6cdb0"/>
<path d="M-10.3,-11.5 Q-11,-23.3 -0.5,-23.3 Q9.8,-23.3 9.6,-11.5 Q-0.5,-13.5 -10.3,-11.5 Z" fill="#2092a6"/>
<rect x="-18.3" y="15.5" width="13.6" height="7" fill="#e8823e"/>
<path d="M-14.5,15.5 v7 M-9,15.5 v7" stroke="#b8401e" stroke-width="1.3"/>
<rect x="-19.3" y="16.5" width="2.6" height="6" fill="#f6cdb0"/>
<rect x="12.4" y="16" width="6.5" height="6.5" fill="#f6cdb0"/>
</g>
<rect x="263.8" y="898.2" width="37.5" height="9.799999999999955" fill="#f5b61a"/>
<text x="282.6" y="905.3" font-size="6" fill="#f8cc50" text-anchor="middle" textLength="27.5" lengthAdjust="spacingAndGlyphs">11月18日</text>
<text x="281.5" y="920.4" font-size="8" fill="#464b52" text-anchor="middle" font-weight="normal" textLength="59" lengthAdjust="spacing">杨某某  男  52岁</text>
<text x="282" y="928.6" font-size="8" fill="#464b52" text-anchor="middle" font-weight="normal" textLength="66" lengthAdjust="spacing">滨海新区南港工业</text>
<text x="282" y="937.3" font-size="8" fill="#464b52" text-anchor="middle" font-weight="normal" textLength="41" lengthAdjust="spacing">区工作人员</text>
<g fill="none" stroke="#c9c9c9" stroke-width="1.1">
<path d="M556,901 Q552,898 549,898 Q541,898.5 540.8,905.5 Q541,909.5 544.5,911.5 L543.5,914 L547.5,912.8 Q549,913.3 551,913.3"/>
<path d="M559.7,903.3 Q567.8,903.8 568,910.8 Q567.8,914.5 565,916 L566,918.5 L562.5,917.3 Q561,917.8 559.7,917.8 Q551.6,917.3 551.5,910.6 Q551.8,903.8 559.7,903.3 Z"/>
</g>
<g fill="#cfcfcf"><circle cx="546.5" cy="901" r="0.9"/><circle cx="551.8" cy="900.6" r="0.9"/><circle cx="556.5" cy="907.5" r="0.8"/><circle cx="562" cy="907.5" r="0.8"/></g>
<text x="574" y="915.6" font-size="15.5" fill="#d4d4d4" font-family="Liberation Sans, sans-serif" textLength="80.7" lengthAdjust="spacingAndGlyphs">CDC疾控人</text>
<text x="573.3" y="915.0" font-size="15.5" fill="#fafafa" stroke="#c2c2c2" stroke-width="0.35" font-family="Liberation Sans, sans-serif" textLength="80.7" lengthAdjust="spacingAndGlyphs">CDC疾控人</text>
</svg>
</body></html>
